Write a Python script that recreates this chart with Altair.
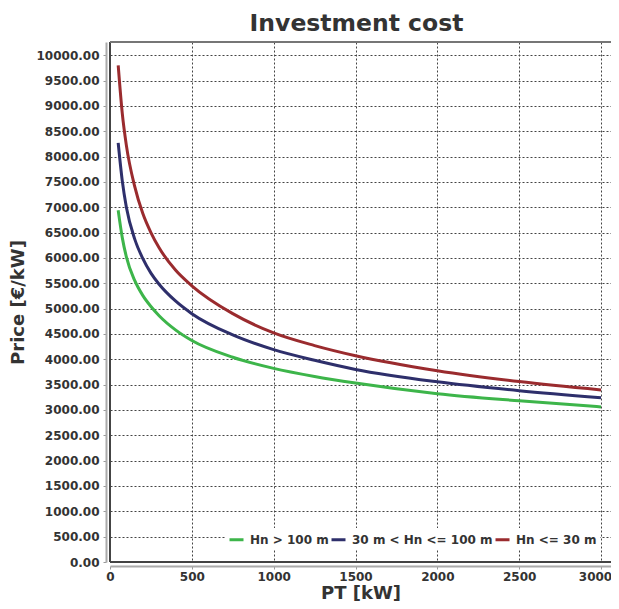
import altair as alt
import pandas as pd

pt_kw = [50, 75, 100, 150, 200, 250, 300, 400, 500, 750, 1000, 1250, 1500, 2000, 2500, 3000]
price_hn_gt_100 = [6940, 6400, 6020, 5560, 5260, 5040, 4860, 4580, 4370, 4040, 3820, 3660, 3530, 3320, 3180, 3060]
price_hn_30_100 = [8270, 7520, 7000, 6380, 5990, 5700, 5480, 5150, 4900, 4480, 4190, 3980, 3800, 3555, 3380, 3240]
price_hn_le_30 = [9800, 8850, 8220, 7420, 6880, 6500, 6200, 5760, 5450, 4900, 4520, 4270, 4070, 3775, 3560, 3395]

series_names = ["Hn > 100 m", "30 m < Hn <= 100 m", "Hn <= 30 m"]
series_colors = ["#3db54a", "#2e2f6b", "#9a2b2e"]
x_ticks = [0, 500, 1000, 1500, 2000, 2500, 3000]
y_ticks = list(range(0, 10001, 500))

rows = []
for name, vals in zip(series_names, [price_hn_gt_100, price_hn_30_100, price_hn_le_30]):
    for x, v in zip(pt_kw, vals):
        rows.append({"PT": x, "Price": v, "Series": name})
df = pd.DataFrame(rows)

W, H = 501, 520
FONT = "DejaVu Sans"

lines = alt.Chart(df).mark_line(strokeWidth=3, interpolate="monotone", clip=True).encode(
    x=alt.X("PT:Q", title="PT [kW]",
            scale=alt.Scale(domain=[0, 3061], nice=False, zero=False),
            axis=alt.Axis(values=x_ticks, format="d", offset=4, grid=True,
                          gridDash=[2, 2], gridColor="#444", gridWidth=1,
                          domainColor="#aaaaaa", domainWidth=2,
                          tickColor="#999999", tickSize=3,
                          labelPadding=2, labelFontSize=12, labelFont=FONT,
                          labelFontWeight="bold", labelColor="#333333",
                          labelOffset={"condition": {"test": "datum.value === 3000", "value": -6}, "value": 0},
                          titleFontSize=18, titleFont=FONT, titleFontWeight="bold",
                          titleColor="#333333", titlePadding=2, labelFlush=False)),
    y=alt.Y("Price:Q", title="Price [€/kW]",
            scale=alt.Scale(domain=[0, 10260], nice=False),
            axis=alt.Axis(values=y_ticks, format=".2f", offset=4, grid=True,
                          gridDash=[2, 2], gridColor="#444", gridWidth=1,
                          domainColor="#aaaaaa", domainWidth=2,
                          tickColor="#999999", tickSize=3,
                          labelPadding=4, labelFontSize=12, labelFont=FONT,
                          labelFontWeight="bold", labelColor="#333333",
                          titleFontSize=18, titleFont=FONT, titleFontWeight="bold",
                          titleColor="#333333", titlePadding=8)),
    color=alt.Color("Series:N",
                    scale=alt.Scale(domain=series_names, range=series_colors),
                    legend=alt.Legend(title=None, orient="none", legendX=115, legendY=486,
                                      direction="horizontal", symbolType="stroke",
                                      symbolSize=196, symbolStrokeWidth=3,
                                      labelFont=FONT, labelFontSize=12,
                                      labelFontWeight="bold", labelColor="#333333",
                                      labelOffset=5, columnPadding=-4,
                                      fillColor="white", padding=3)),
)

left_edge = alt.Chart(df).mark_rule(color="#444444", strokeWidth=1.5).encode(
    x=alt.value(0), y=alt.value(0), y2=alt.value(H))
bottom_edge = alt.Chart(df).mark_rule(color="#444444", strokeWidth=1.5).encode(
    x=alt.value(0), x2=alt.value(W), y=alt.value(H))
top_edge = alt.Chart(df).mark_rule(color="#777777", strokeWidth=1.2).encode(
    x=alt.value(0), x2=alt.value(W), y=alt.value(0))

chart = alt.layer(lines, left_edge, bottom_edge, top_edge).properties(
    width=W, height=H,
    background="white",
    title=alt.TitleParams("Investment cost", fontSize=23.5, font=FONT, fontWeight="bold",
                          color="#333333", anchor="middle", offset=6, dx=-4),
    autosize=alt.AutoSizeParams(type="none"),
    padding={"left": 102, "top": 34, "right": 0, "bottom": 39},
).configure_view(stroke="transparent", strokeWidth=0)

chart.save("out.html", embed_options={"renderer": "svg", "actions": False})
